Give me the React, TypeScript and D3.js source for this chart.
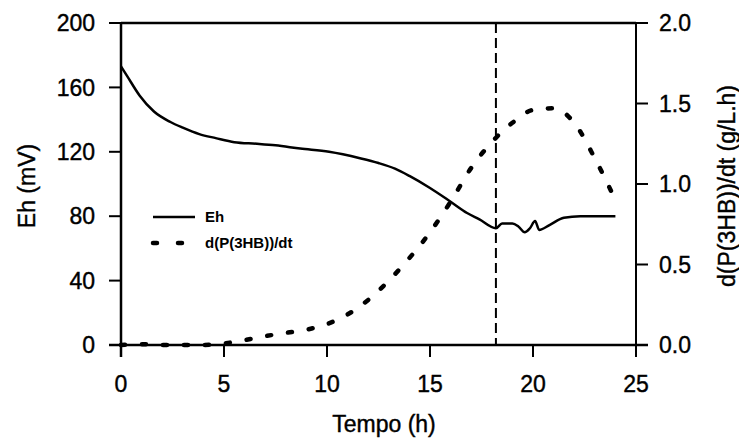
import React from "react";
import * as d3 from "d3";

const ehTime = [0, 0.3, 0.9, 1.6, 2.4, 3.0, 3.8, 4.6, 5.5, 6.6, 7.5, 8.7, 10.1, 11.6, 12.5, 13.3, 14.0, 15.0, 16.0, 16.8, 17.4, 18.2, 18.5, 19.0, 19.3, 19.6, 19.85, 20.1, 20.3, 20.8, 21.5, 22.3, 24.0];
const ehValue = [173, 167, 155, 145, 138.5, 135, 131, 128.5, 126, 125, 124, 122, 120, 116, 113, 109.5, 105, 97.5, 89, 82, 78, 72.5, 75.5, 75.5, 73.5, 70, 72.5, 77, 71.5, 74.5, 79, 80, 80];

const rateTime = [0, 1, 2, 3, 4, 5, 6, 7, 8, 9, 10, 11, 12, 13, 14, 15, 16, 17, 18, 19, 20, 21, 22, 23, 24];
const rateValue = [0, 0.005, 0, 0, 0, 0.01, 0.03, 0.055, 0.075, 0.095, 0.13, 0.19, 0.28, 0.4, 0.54, 0.7, 0.89, 1.1, 1.26, 1.38, 1.46, 1.47, 1.38, 1.16, 0.9];

const xTicks = [0, 5, 10, 15, 20, 25];
const yLeftTicks = [0, 40, 80, 120, 160, 200];
const yRightTicks = [0, 0.5, 1.0, 1.5, 2.0];
const markerTime = 18.2;

const legendLabels = ["Eh", "d(P(3HB))/dt"];
const xTitle = "Tempo (h)";
const yLeftTitle = "Eh (mV)";
const yRightTitle = "d(P(3HB))/dt (g/L.h)";

const W = 739;
const H = 440;
const left = 121;
const right = 636;
const top = 23;
const bottom = 345;
const font = "'Liberation Sans', Arial, Helvetica, sans-serif";

export default function App() {
  const x = d3.scaleLinear().domain([0, 25]).range([left, right]);
  const yL = d3.scaleLinear().domain([0, 200]).range([bottom, top]);
  const yR = d3.scaleLinear().domain([0, 2]).range([bottom, top]);

  const ehLine = d3
    .line<number>()
    .x((_, i) => x(ehTime[i]))
    .y((d) => yL(d))
    .curve(d3.curveMonotoneX);
  const rateLine = d3
    .line<number>()
    .x((_, i) => x(rateTime[i]))
    .y((d) => yR(d))
    .curve(d3.curveMonotoneX);

  const fmtR = d3.format(".1f");
  const stroke = "#000";
  const textStroke = { stroke: "#000", strokeWidth: 0.4 };

  return (
    <svg
      width={W}
      height={H}
      style={{ position: "absolute", left: 0, top: 0, background: "#fff" }}
      fontFamily={font}
    >
      <rect x={0} y={0} width={W} height={H} fill="#fff" />
      {/* frame */}
      <line x1={left} x2={right} y1={top} y2={top} stroke={stroke} strokeWidth={2.5} />
      <line x1={left} x2={left} y1={top} y2={bottom + 12} stroke={stroke} strokeWidth={2.5} />
      <line x1={right} x2={right} y1={top} y2={bottom + 12} stroke={stroke} strokeWidth={2} />
      <line x1={left - 12} x2={right + 12} y1={bottom} y2={bottom} stroke={stroke} strokeWidth={2.5} />

      {/* x ticks */}
      {xTicks.map((t) => (
        <g key={"x" + t}>
          <line x1={x(t)} x2={x(t)} y1={bottom} y2={bottom + 12} stroke={stroke} strokeWidth={2} />
          <text x={x(t)} y={392} fontSize={23} textAnchor="middle" fill="#000" {...textStroke}>
            {t}
          </text>
        </g>
      ))}
      {/* left ticks */}
      {yLeftTicks.map((t) => (
        <g key={"yl" + t}>
          <line x1={left - 12} x2={left} y1={yL(t)} y2={yL(t)} stroke={stroke} strokeWidth={2} />
          <text x={left - 26} y={yL(t)} dy="0.36em" fontSize={23} textAnchor="end" fill="#000" {...textStroke}>
            {t}
          </text>
        </g>
      ))}
      {/* right ticks */}
      {yRightTicks.map((t) => (
        <g key={"yr" + t}>
          <line x1={right} x2={right + 12} y1={yR(t)} y2={yR(t)} stroke={stroke} strokeWidth={2} />
          <text x={right + 23} y={yR(t)} dy="0.36em" fontSize={23} textAnchor="start" fill="#000" {...textStroke}>
            {fmtR(t)}
          </text>
        </g>
      ))}

      {/* vertical marker */}
      <line
        x1={x(markerTime)}
        x2={x(markerTime)}
        y1={top}
        y2={bottom}
        stroke={stroke}
        strokeWidth={2}
        strokeDasharray="10 5"
      />

      {/* curves */}
      <path d={ehLine(ehValue) || ""} fill="none" stroke={stroke} strokeWidth={2.5} />
      <path
        d={rateLine(rateValue) || ""}
        fill="none"
        stroke={stroke}
        strokeWidth={4.5}
        strokeLinecap="round"
        strokeDasharray="4 17"
      />

      {/* legend */}
      <line x1={153} x2={195} y1={217} y2={217} stroke={stroke} strokeWidth={2.5} />
      <text x={205} y={222} fontSize={15} fontWeight="bold" fill="#000">
        {legendLabels[0]}
      </text>
      <line
        x1={153}
        x2={195}
        y1={243}
        y2={243}
        stroke={stroke}
        strokeWidth={4.5}
        strokeLinecap="round"
        strokeDasharray="4 21"
      />
      <text x={205} y={248} fontSize={15} fontWeight="bold" fill="#000">
        {legendLabels[1]}
      </text>

      {/* axis titles */}
      <text x={384} y={432} fontSize={23} textAnchor="middle" fill="#000" {...textStroke}>
        {xTitle}
      </text>
      <text
        transform={`translate(35,186) rotate(-90)`}
        fontSize={23}
        textAnchor="middle"
        fill="#000"
        {...textStroke}
      >
        {yLeftTitle}
      </text>
      <text
        transform={`translate(735,186) rotate(-90)`}
        fontSize={23}
        textAnchor="middle"
        fill="#000"
        {...textStroke}
      >
        {yRightTitle}
      </text>
    </svg>
  );
}
